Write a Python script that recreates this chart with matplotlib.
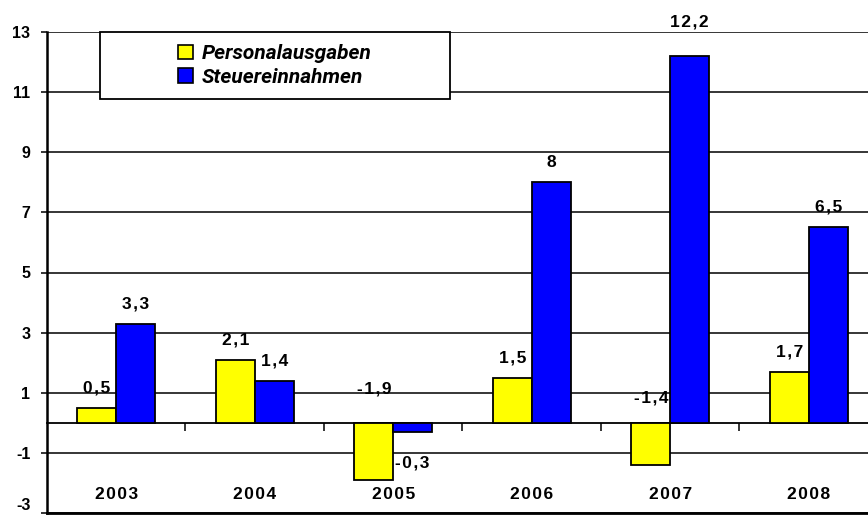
import matplotlib
matplotlib.use("Agg")
import matplotlib.pyplot as plt
import numpy as np
from matplotlib.patches import Rectangle

years = ["2003", "2004", "2005", "2006", "2007", "2008"]
personal = [0.5, 2.1, -1.9, 1.5, -1.4, 1.7]
steuer = [3.3, 1.4, -0.3, 8.0, 12.2, 6.5]
series_names = ["Personalausgaben", "Steuereinnahmen"]
yticks = [-3, -1, 1, 3, 5, 7, 9, 11, 13]

plt.rcParams['font.family'] = ['Liberation Sans', 'DejaVu Sans']

def spaced(s):
    # Excel export has wide letter spacing on the numbers
    return "\u200a".join(s)

fig = plt.figure(figsize=(8.68, 5.16), dpi=100)
# axes runs a little past the right edge like the original export
ax = fig.add_axes([47 / 868, 3 / 516, 831 / 868, 481 / 516])

x = np.arange(len(years)) + 0.5
w = 0.28
ax.bar(x - w / 2, personal, w, color='#FFFF00', edgecolor='black', linewidth=1.3, zorder=3,
       label=series_names[0])
ax.bar(x + w / 2, steuer, w, color='#0000FF', edgecolor='black', linewidth=1.3, zorder=3,
       label=series_names[1])

ax.set_xlim(0, 6)
ax.set_ylim(-3, 13)
ax.set_yticks(yticks)
ax.set_yticklabels([str(t) for t in yticks], fontsize=11.5, fontweight='bold')
ax.yaxis.grid(True, color='black', linewidth=1.1, zorder=1)
ax.tick_params(axis='y', length=4, width=1.1, pad=8)
ax.get_yticklabels()[0].set_va('bottom')

# x axis line sits at zero with ticks at the category borders
ax.spines['bottom'].set_position(('data', 0))
ax.spines['bottom'].set_linewidth(1.3)
ax.set_xticks(np.arange(1, 7))
ax.set_xticklabels([])
ax.tick_params(axis='x', direction='out', length=6, width=1.1)
ax.spines['left'].set_linewidth(1.8)
ax.spines['top'].set_visible(False)
ax.spines['right'].set_visible(False)
ax.axhline(-3, color='black', linewidth=2, zorder=2, clip_on=False)

for xi, yr in zip(x, years):
    ax.text(xi, -2.37, spaced(yr), ha='center', va='center', fontsize=12.5, fontweight='bold')

def lab(v):
    return spaced(f"{v:g}".replace('.', ','))

# default: label sits 20 px above bar top; a few are moved like in the source
for i, v in enumerate(personal):
    if v >= 0:
        base, off = v, 20
    elif v < -1.5:
        base, off = 0, 34
    else:
        base, off = 0, 25
    ax.annotate(lab(v), (x[i] - w / 2, base), xytext=(0, off * 0.72), textcoords='offset points',
                ha='center', va='center', fontsize=12.5, fontweight='bold', zorder=4)
for i, v in enumerate(steuer):
    if v >= 0:
        base, off = v, (34 if v > 12 else 20)
    else:
        base, off = v, -31
    ax.annotate(lab(v), (x[i] + w / 2, base), xytext=(0, off * 0.72), textcoords='offset points',
                ha='center', va='center', fontsize=12.5, fontweight='bold', zorder=4,
                annotation_clip=False)

# legend frame drawn by hand, Excel style wide box
x0, x1 = (100 - 47) / 831, (450 - 47) / 831
y0, y1 = (513 - 99) / 481, 1.0
ax.add_patch(Rectangle((x0, y0), x1 - x0, y1 - y0, transform=ax.transAxes, facecolor='white',
                       edgecolor='black', linewidth=1.3, zorder=5, clip_on=False))
leg = ax.legend(loc='center', bbox_to_anchor=((x0 + x1) / 2, (y0 + y1) / 2), frameon=False,
                handlelength=0.7, handleheight=0.7, handletextpad=0.45, labelspacing=0.2,
                prop={'family': 'Roboto', 'style': 'italic', 'weight': 'bold', 'size': 15})
leg.set_zorder(6)
for h in leg.legend_handles:
    h.set_linewidth(1.2)

fig.savefig("out.png", dpi=100)
